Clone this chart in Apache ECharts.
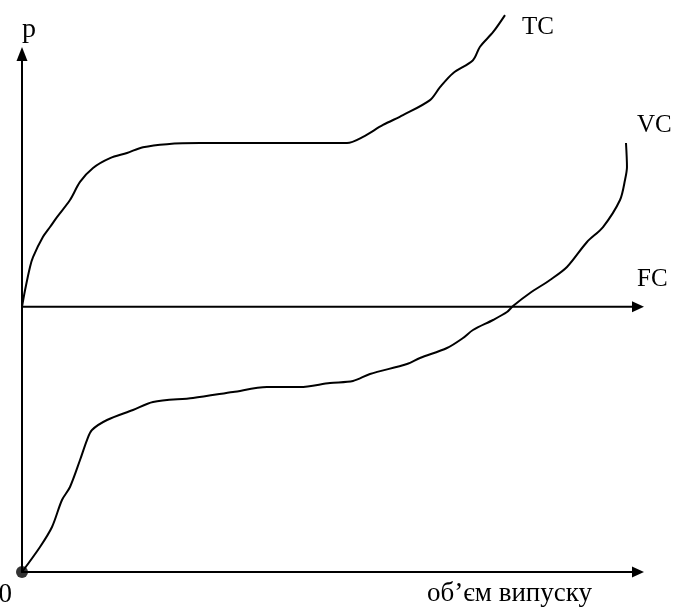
<!DOCTYPE html>
<html>
<head>
<meta charset="utf-8">
<script src="https://cdn.jsdelivr.net/npm/echarts@6/dist/echarts.min.js"></script>
<style>
html,body{margin:0;padding:0;background:#fff;}
#chart{width:673px;height:610px;}
</style>
</head>
<body>
<div id="chart"></div>
<script>
// ---- data (quantity on x, cost on y; arbitrary 0..100 units) ----
const tcData = [
  [0, 51.2], [0.49, 54.4], [1.30, 58.9], [1.79, 60.8], [3.41, 64.7], [4.55, 66.6],
  [5.68, 68.5], [7.79, 71.8], [9.42, 75.3], [11.53, 78.0], [14.29, 79.9], [17.05, 80.9],
  [19.64, 82.0], [23.54, 82.6], [28.90, 82.8], [40.0, 82.8], [51.62, 82.8], [52.76, 82.8],
  [55.36, 84.0], [58.60, 86.3], [61.85, 88.2], [66.23, 91.1], [67.86, 93.6], [69.97, 96.3],
  [73.21, 98.8], [74.35, 101.4], [76.46, 104.2], [78.41, 107.5]
];
const vcData = [
  [0, 0], [2.92, 4.83], [4.87, 8.69], [6.49, 13.90], [7.79, 16.41], [9.42, 21.62],
  [10.55, 25.48], [11.36, 27.41], [13.80, 29.34], [18.02, 31.27], [21.27, 32.82],
  [27.76, 33.59], [34.25, 34.75], [39.77, 35.71], [45.13, 35.71], [50.00, 36.49],
  [53.73, 36.87], [56.49, 38.22], [62.50, 40.15], [64.61, 41.31], [68.99, 43.24],
  [71.59, 45.17], [73.21, 46.72], [76.46, 48.65], [78.73, 50.19], [79.71, 51.35],
  [82.47, 53.86], [85.71, 56.37], [88.47, 58.88], [91.72, 63.71], [94.32, 66.60],
  [97.08, 71.81], [97.89, 75.68], [98.21, 78.19], [98.05, 82.82]
];
const fcLevel = 51.2;
const fcX = [0, 100];
const seriesNames = ['TC', 'VC', 'FC'];
const originPoint = [0, 0];
const xAxisName = 'об’єм випуску';
const yAxisName = 'p';
const originLabel = '0';

const FONT = 'Liberation Serif';
const chart = echarts.init(document.getElementById('chart'), null, {renderer: 'canvas'});

const axisLineStyle = {color: '#000', width: 2};

const option = {
  backgroundColor: '#fff',
  animation: false,
  grid: {left: 22, right: 35, top: 54, bottom: 38, containLabel: false, outerBoundsMode: 'none'},
  xAxis: {
    type: 'value', min: 0, max: 100, interval: 100,
    name: xAxisName, nameLocation: 'end', nameGap: -46,
    nameTextStyle: {fontFamily: FONT, fontSize: 27, color: '#000', align: 'right', verticalAlign: 'top', padding: [8, 0, 0, 0]},
    axisLine: {show: true, lineStyle: axisLineStyle, symbol: ['none', 'triangle'], symbolSize: [11, 12]},
    axisTick: {show: false},
    splitLine: {show: false},
    axisLabel: {
      show: true, margin: 9, color: '#000', fontFamily: FONT, fontSize: 27,
      align: 'right', padding: [0, 10, 0, 0],
      formatter: v => (v === 0 ? originLabel : '')
    }
  },
  yAxis: {
    type: 'value', min: 0, max: 100, interval: 100,
    name: yAxisName, nameLocation: 'end', nameGap: 10,
    nameTextStyle: {fontFamily: FONT, fontSize: 28, color: '#000', align: 'left'},
    axisLine: {show: true, lineStyle: axisLineStyle, symbol: ['none', 'triangle'], symbolSize: [11, 14]},
    axisTick: {show: false},
    splitLine: {show: false},
    axisLabel: {show: false}
  },
  series: [
    {
      name: seriesNames[0], type: 'line', data: tcData, clip: false, silent: true,
      symbol: 'none', smooth: 0.3,
      lineStyle: {color: '#000', width: 2},
      endLabel: {show: true, formatter: seriesNames[0], distance: 0, offset: [17, 12],
        fontFamily: FONT, fontSize: 25, color: '#000'}
    },
    {
      name: seriesNames[1], type: 'line', data: vcData, clip: false, silent: true,
      symbol: 'none', smooth: 0.3,
      lineStyle: {color: '#000', width: 2},
      endLabel: {show: true, formatter: seriesNames[1], distance: 0, offset: [11, -18],
        fontFamily: FONT, fontSize: 25, color: '#000'}
    },
    {
      name: seriesNames[2], type: 'line', clip: false, silent: true,
      data: [
        {value: [fcX[0], fcLevel], symbol: 'none'},
        {value: [fcX[1], fcLevel], symbol: 'triangle', symbolRotate: -90, symbolSize: [11, 12]}
      ],
      symbol: 'none', showSymbol: true,
      itemStyle: {color: '#000'},
      lineStyle: {color: '#000', width: 2},
      endLabel: {show: true, formatter: seriesNames[2], distance: 0, offset: [-1, -27],
        fontFamily: FONT, fontSize: 25, color: '#000'}
    },
    {
      name: 'origin', type: 'scatter', data: [originPoint], silent: true, clip: false,
      symbol: 'circle', symbolSize: 12, itemStyle: {color: '#000'}
    }
  ]
};
chart.setOption(option);
</script>
</body>
</html>
